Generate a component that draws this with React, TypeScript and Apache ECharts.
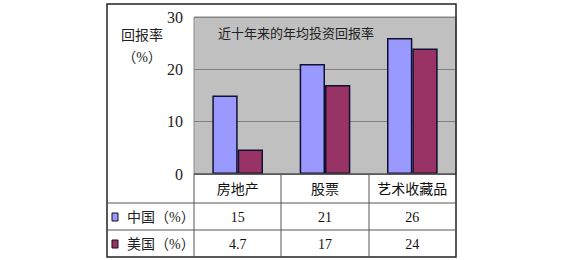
import React, { useEffect, useRef } from "react";
import * as echarts from "echarts";

const categories = ["房地产", "股票", "艺术收藏品"];
const seriesNames = ["中国（%）", "美国（%）"];
const chinaValues = [15, 21, 26];
const usaValues = [4.7, 17, 24];
const tableLabels = ["15", "21", "26"];
const tableLabelsUS = ["4.7", "17", "24"];
const yTicks = [0, 10, 20, 30];
const titleText = "近十年来的年均投资回报率";
const yNameLines = ["回报率", "（%）"];

const colors = ["#9999FF", "#993366"];
const SERIF = "'Liberation Serif', 'Noto Sans CJK SC', serif";

const W = 564;
const H = 260;
const FRAME_L = 107;
const FRAME_T = 4;
const FRAME_R = 456;
const FRAME_B = 257;
const PLOT_L = 194;
const PLOT_T = 17;
const PLOT_B = 174;
const ROW1 = 203;
const ROW2 = 230;

export default function App() {
  const ref = useRef<HTMLDivElement>(null);
  useEffect(() => {
    if (!ref.current) return;
    const chart = echarts.init(ref.current, undefined, { renderer: "svg" });
    const nCat = categories.length;
    const colW = (FRAME_R - PLOT_L) / nCat;
    const graphics: any[] = [];
    // outer frame
    graphics.push({
      type: "rect",
      shape: { x: FRAME_L, y: FRAME_T, width: FRAME_R - FRAME_L, height: FRAME_B - FRAME_T },
      style: { fill: "none", stroke: "#222", lineWidth: 1.5 },
      z: 10,
    });
    // plot border
    graphics.push({
      type: "rect",
      shape: { x: PLOT_L, y: PLOT_T, width: FRAME_R - PLOT_L, height: PLOT_B - PLOT_T },
      style: { fill: "none", stroke: "#8a8a8a", lineWidth: 1 },
      z: 9,
    });
    // horizontal table lines
    [ROW1, ROW2].forEach((y) =>
      graphics.push({
        type: "line",
        shape: { x1: FRAME_L, y1: y, x2: FRAME_R, y2: y },
        style: { stroke: "#555", lineWidth: 1 },
        z: 10,
      })
    );
    graphics.push({
      type: "line",
      shape: { x1: PLOT_L, y1: PLOT_B, x2: FRAME_R, y2: PLOT_B },
      style: { stroke: "#333", lineWidth: 1 },
      z: 10,
    });
    // vertical table lines
    for (let i = 0; i < nCat; i++) {
      const x = Math.round(PLOT_L + i * colW);
      graphics.push({
        type: "line",
        shape: { x1: x, y1: PLOT_B, x2: x, y2: FRAME_B },
        style: { stroke: "#555", lineWidth: 1 },
        z: 10,
      });
    }
    // table cells
    const rows = [tableLabels, tableLabelsUS];
    const rowCY = [(ROW1 + ROW2) / 2 + 1, (ROW2 + FRAME_B) / 2 + 1];
    categories.forEach((c, i) => {
      const cx = PLOT_L + (i + 0.5) * colW;
      graphics.push({
        type: "text",
        x: cx,
        y: (PLOT_B + ROW1) / 2 + 1,
        style: { text: c, fill: "#111", font: "14px " + SERIF, align: "center", verticalAlign: "middle" },
        z: 11,
      });
      rows.forEach((r, j) => {
        graphics.push({
          type: "text",
          x: cx,
          y: rowCY[j],
          style: { text: r[i], fill: "#111", font: "14px " + SERIF, align: "center", verticalAlign: "middle" },
          z: 11,
        });
      });
    });
    // legend keys in table
    seriesNames.forEach((n, j) => {
      graphics.push({
        type: "rect",
        shape: { x: 112, y: rowCY[j] - 4.5, width: 6, height: 8 },
        style: { fill: colors[j], stroke: "#111", lineWidth: 1 },
        z: 11,
      });
      graphics.push({
        type: "text",
        x: 127,
        y: rowCY[j],
        style: { text: n, fill: "#222", font: "14px " + SERIF, align: "left", verticalAlign: "middle" },
        z: 11,
      });
    });
    // y axis name
    yNameLines.forEach((t, i) => {
      graphics.push({
        type: "text",
        x: 142,
        y: 35 + i * 22,
        style: { text: t, fill: "#222", font: "14px " + SERIF, align: "center", verticalAlign: "middle" },
        z: 11,
      });
    });
    // title inside plot
    graphics.push({
      type: "text",
      x: 296,
      y: 33,
      style: { text: titleText, fill: "#222", font: "13px " + SERIF, align: "center", verticalAlign: "middle" },
      z: 11,
    });

    chart.setOption({
      animation: false,
      backgroundColor: "#ffffff",
      grid: {
        left: PLOT_L,
        right: W - FRAME_R,
        top: PLOT_T,
        bottom: H - PLOT_B,
        show: true,
        backgroundColor: "#C0C0C0",
        borderWidth: 0,
      },
      xAxis: {
        type: "category",
        data: categories,
        axisLine: { show: false },
        axisTick: { show: false },
        axisLabel: { show: false },
      },
      yAxis: {
        type: "value",
        min: yTicks[0],
        max: yTicks[yTicks.length - 1],
        interval: yTicks[1] - yTicks[0],
        axisLine: { show: false },
        axisTick: { show: false },
        axisLabel: { fontFamily: SERIF, fontSize: 16, color: "#222", margin: 11 },
        splitLine: { lineStyle: { color: "#7f7f7f", width: 1 } },
      },
      series: [
        {
          name: seriesNames[0],
          type: "bar",
          data: chinaValues,
          barGap: "0%",
          barCategoryGap: "42%",
          itemStyle: { color: colors[0], borderColor: "#101030", borderWidth: 1.5 },
        },
        {
          name: seriesNames[1],
          type: "bar",
          data: usaValues,
          barGap: "0%",
          barCategoryGap: "42%",
          itemStyle: { color: colors[1], borderColor: "#101030", borderWidth: 1.5 },
        },
      ],
      graphic: graphics,
    });
    return () => chart.dispose();
  }, []);
  return (
    <div
      ref={ref}
      style={{ position: "fixed", left: 0, top: 0, width: W, height: H, background: "#fff" }}
    />
  );
}
